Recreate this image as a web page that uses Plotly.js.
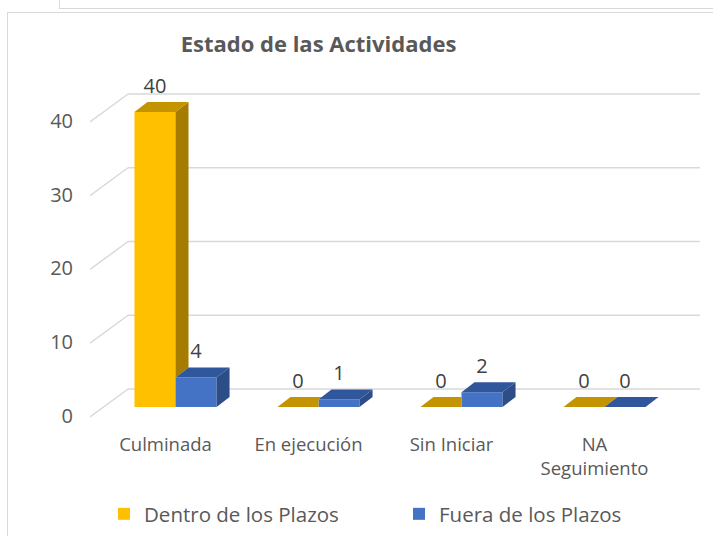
<!DOCTYPE html>
<html>
<head>
<meta charset="utf-8">
<script src="https://cdn.plot.ly/plotly-3.0.1.min.js"></script>
<style>
  html, body { margin: 0; padding: 0; background: #ffffff; }
  #wrap { position: relative; width: 713px; height: 536px; overflow: hidden; }
  #topbox { position: absolute; left: 59px; top: -20px; width: 800px; height: 27px; border: 1.5px solid #d9d9d9; }
  #frame { position: absolute; left: 7px; top: 12px; width: 800px; height: 600px; border: 1.5px solid #d9d9d9; }
  #chart { position: absolute; left: 0; top: 0; width: 713px; height: 536px; }
</style>
</head>
<body>
<div id="wrap">
  <div id="topbox"></div>
  <div id="frame"></div>
  <div id="chart"></div>
</div>
<script>
// ---- data ----
const categories = ['Culminada', 'En ejecución', 'Sin Iniciar', 'NA<br>Seguimiento'];
const seriesNames = ['Dentro de los Plazos', 'Fuera de los Plazos'];
const dentro = [40, 0, 0, 0];
const fuera = [4, 1, 2, 0];
const yTicks = [0, 10, 20, 30, 40];

// ---- geometry / style (pseudo 3D) ----
const BAR_W = 0.287;     // width of each bar (category units)
const DX = 0.091;        // depth shift in x
const DY = 1.356;        // depth shift in y (value units)
const WALL_DY = 2.44;    // back wall offset
const FRONT_DY = -1.356; // front plane offset
const X_FRONT = -0.598, X_BACK = -0.332, X_END = 3.668;
const LABEL_DX = -0.07;
const TICK_DY = -1.22;
const TEXT_DY = 3.3;

const C = {
  yFront: '#FFC000', ySide: '#A57C00', yTop: '#C39400',
  bFront: '#4472C4', bSide: '#2C4D88', bTop: '#30579C',
  grid: '#d9d9d9', text: '#595959', label: '#404040'
};

const idx = categories.map((_, i) => i);

function addPoly(acc, pts) {
  pts.forEach(p => { acc.x.push(p[0]); acc.y.push(p[1]); });
  acc.x.push(null); acc.y.push(null);
}

const ySide = {x: [], y: []}, yTop = {x: [], y: []}, bSide = {x: [], y: []}, bTop = {x: [], y: []};
idx.forEach(i => {
  const vy = dentro[i], vb = fuera[i];
  const x0 = i - BAR_W, x1 = i, x2 = i + BAR_W;
  // yellow side (visible part above blue bar)
  if (vy > vb) {
    const lo = Math.max(vb, 0);
    addPoly(ySide, [[x1, lo], [x1, vy], [x1 + DX, vy + DY], [x1 + DX, lo + DY]]);
  }
  // yellow top (clipped by blue bar if taller)
  const c = Math.min(Math.max(vb - vy, 0), DY);
  addPoly(yTop, [[x0, vy], [x1, vy], [x1, vy + c], [x1 + (DY - c) / DY * DX, vy + DY], [x0 + DX, vy + DY]]);
  // blue side
  if (vb > 0) addPoly(bSide, [[x2, 0], [x2, vb], [x2 + DX, vb + DY], [x2 + DX, DY]]);
  // blue top
  addPoly(bTop, [[x1, vb], [x2, vb], [x2 + DX, vb + DY], [x1 + DX, vb + DY]]);
});

function face(acc, color) {
  return {type: 'scatter', mode: 'none', x: acc.x, y: acc.y, fill: 'toself',
          fillcolor: color, showlegend: false, hoverinfo: 'skip'};
}

const traces = [
  {type: 'bar', name: seriesNames[0], x: idx.map(i => i - BAR_W / 2), y: dentro, width: BAR_W,
   marker: {color: C.yFront, line: {width: 0}}, hoverinfo: 'skip'},
  {type: 'bar', name: seriesNames[1], x: idx.map(i => i + BAR_W / 2), y: fuera, width: BAR_W,
   marker: {color: C.bFront, line: {width: 0}}, hoverinfo: 'skip'},
  face(ySide, C.ySide), face(yTop, C.yTop), face(bSide, C.bSide), face(bTop, C.bTop),
  {type: 'scatter', mode: 'text', showlegend: false, hoverinfo: 'skip',
   x: idx.map(i => i - BAR_W / 2).concat(idx.map(i => i + BAR_W / 2)),
   y: dentro.map(v => v + TEXT_DY).concat(fuera.map(v => v + TEXT_DY)),
   text: dentro.map(String).concat(fuera.map(String)),
   textposition: 'middle center',
   textfont: {family: 'Open Sans, sans-serif', size: 20, color: C.label}}
];

const shapes = [];
yTicks.forEach(v => {
  shapes.push({type: 'line', xref: 'x', yref: 'y', layer: 'below', x0: X_BACK, x1: X_END,
               y0: v + WALL_DY, y1: v + WALL_DY, line: {color: C.grid, width: 1.5}});
  shapes.push({type: 'line', xref: 'x', yref: 'y', layer: 'below', x0: X_FRONT, x1: X_BACK,
               y0: v + FRONT_DY, y1: v + WALL_DY, line: {color: C.grid, width: 1.5}});
});

const layout = {
  width: 713, height: 536,
  margin: {l: 90, r: 8, t: 60, b: 113},
  paper_bgcolor: 'rgba(0,0,0,0)', plot_bgcolor: 'rgba(0,0,0,0)',
  barmode: 'overlay',
  font: {family: 'Open Sans, sans-serif', color: C.text},
  title: {text: 'Estado de las Actividades', xref: 'container', yref: 'container',
          x: 318.5 / 713, xanchor: 'center', y: 1 - 44.5 / 536, yanchor: 'middle',
          font: {family: 'Open Sans, sans-serif', size: 22, weight: 'bold', color: C.text}},
  xaxis: {range: [-0.598, 3.703], tickmode: 'array', tickvals: idx.map(i => i + LABEL_DX),
          ticktext: categories, showgrid: false, zeroline: false, showline: false, ticks: '',
          tickfont: {size: 18.5, color: C.text}, ticklabelstandoff: 8, fixedrange: true},
  yaxis: {range: [-2.17, 47.05], tickmode: 'array', tickvals: yTicks.map(v => v + TICK_DY),
          ticktext: yTicks.map(String), showgrid: false, zeroline: false, showline: false, ticks: '',
          tickfont: {size: 20, color: C.text}, ticklabelstandoff: 16, fixedrange: true},
  shapes: shapes,
  showlegend: true,
  legend: {orientation: 'h', xref: 'container', yref: 'container', x: 104 / 713, xanchor: 'left',
           y: 1 - 514 / 536, yanchor: 'middle', font: {size: 20.5, color: C.text},
           entrywidth: 250, entrywidthmode: 'pixels', bgcolor: 'rgba(0,0,0,0)', traceorder: 'normal'},
  hovermode: false
};

Plotly.newPlot('chart', traces, layout, {displayModeBar: false, staticPlot: true});
</script>
</body>
</html>
